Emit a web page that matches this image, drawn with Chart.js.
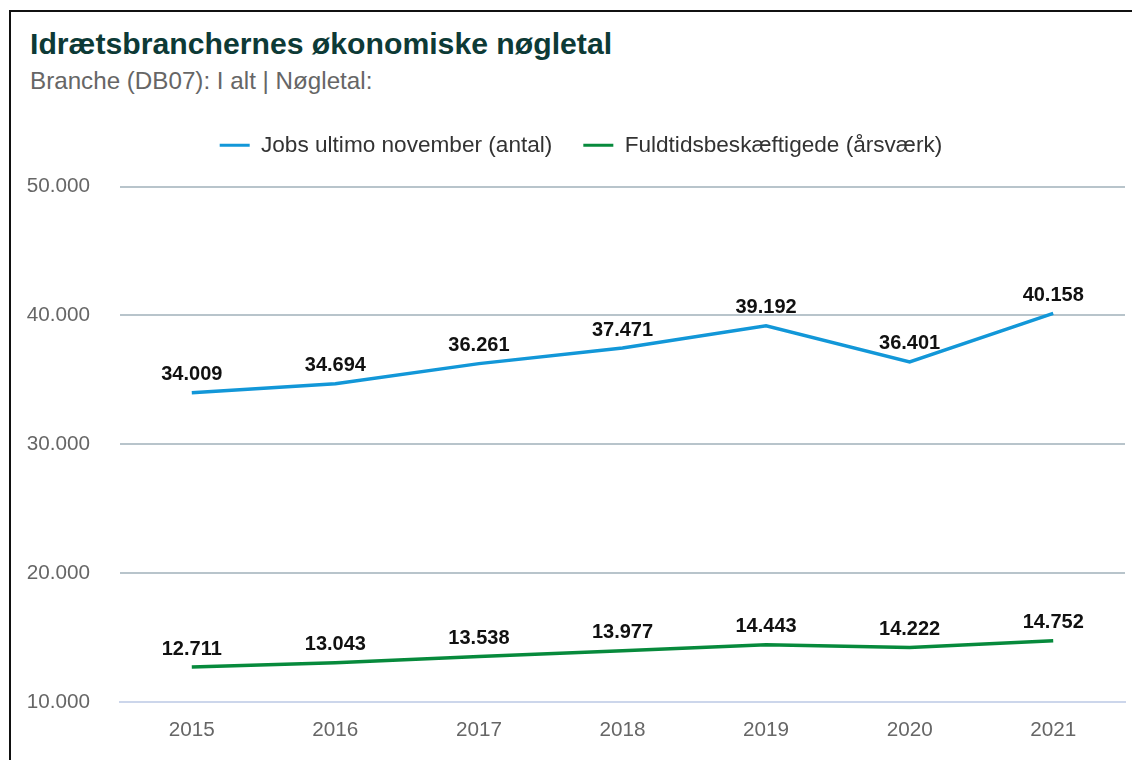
<!DOCTYPE html>
<html>
<head>
<meta charset="utf-8">
<script src="https://cdn.jsdelivr.net/npm/chart.js@4"></script>
<style>
  html, body { margin: 0; padding: 0; background: #fff; overflow: hidden; }
  body { width: 1132px; height: 760px; position: relative; font-family: "Liberation Sans", Arial, sans-serif; }
  #frame { position: absolute; left: 9px; top: 10px; width: 1300px; height: 900px; border: 2px solid #111; }
  #title { position: absolute; left: 30px; top: 29px; font-size: 30.2px; line-height: 30px; font-weight: bold; color: #0d3a36; white-space: nowrap; }
  #subtitle { position: absolute; left: 30px; top: 68px; font-size: 24.2px; line-height: 26px; color: #666; white-space: nowrap; }
  #wrap { position: absolute; left: 11px; top: 103px; width: 1140px; height: 657px; }
</style>
</head>
<body>
<div id="frame"></div>
<div id="title">Idrætsbranchernes økonomiske nøgletal</div>
<div id="subtitle">Branche (DB07): I alt | Nøgletal:</div>
<div id="wrap"><canvas id="chart"></canvas></div>
<script>
/* --------------- Data --------------------- */
const years = ["2015", "2016", "2017", "2018", "2019", "2020", "2021"];
const jobs = [34009, 34694, 36261, 37471, 39192, 36401, 40158];
const fuldtid = [12711, 13043, 13538, 13977, 14443, 14222, 14752];
const seriesNames = ["Jobs ultimo november (antal)", "Fuldtidsbeskæftigede (årsværk)"];
const yTicks = [10000, 20000, 30000, 40000, 50000];

const fontName = "'Liberation Sans', Arial, sans-serif";
const fmt = (v) => String(v).replace(/\B(?=(\d{3})+(?!\d))/g, ".");

/* --------------- Value labels over each point --------------------- */
const pointLabels = {
  id: "pointLabels",
  afterDatasetsDraw(chart) {
    const ctx = chart.ctx;
    ctx.save();
    ctx.font = "bold 20px " + fontName;
    ctx.fillStyle = "#111";
    ctx.textAlign = "center";
    ctx.textBaseline = "middle";
    chart.data.datasets.forEach((ds, i) => {
      chart.getDatasetMeta(i).data.forEach((pt, j) => {
        ctx.fillText(fmt(ds.data[j]), pt.x, pt.y - 18);
      });
    });
    ctx.restore();
  },
};

/* --------------- Chart --------------------- */
new Chart(document.getElementById("chart"), {
  type: "line",
  plugins: [pointLabels],
  data: {
    labels: years,
    datasets: [
      { label: seriesNames[0], data: jobs, borderColor: "#1297d8", backgroundColor: "#1297d8", borderWidth: 3.5, pointRadius: 0, tension: 0 },
      { label: seriesNames[1], data: fuldtid, borderColor: "#078a3c", backgroundColor: "#078a3c", borderWidth: 3.5, pointRadius: 0, tension: 0 },
    ],
  },
  options: {
    responsive: true,
    maintainAspectRatio: false,
    animation: false,
    layout: { padding: 0 },
    plugins: {
      tooltip: { enabled: false },
      legend: {
        position: "top",
        labels: {
          boxWidth: 30,
          boxHeight: 3,
          padding: 31,
          color: "#333",
          font: { family: fontName, size: 22.6 },
          generateLabels: (chart) =>
            Chart.defaults.plugins.legend.labels.generateLabels(chart).map((l) => ({ ...l, lineWidth: 0 })),
        },
      },
    },
    scales: {
      x: {
        offset: true,
        grid: { display: false, drawTicks: false },
        border: { display: true, color: "#ccd6eb", width: 2 },
        ticks: { color: "#666", padding: 16, font: { family: fontName, size: 20.7 } },
        afterFit: (s) => { s.height = 58; },
      },
      x2: {
        position: "top",
        grid: { display: false, drawTicks: false },
        border: { display: false },
        ticks: { display: false },
        afterFit: (s) => { s.height = 20; },
      },
      y: {
        min: 10000,
        max: 50000,
        afterBuildTicks: (s) => { s.ticks = yTicks.map((v) => ({ value: v })); },
        grid: {
          drawTicks: false,
          lineWidth: 2,
          color: (c) => (c.tick && c.tick.value === 10000 ? "rgba(0,0,0,0)" : "#b8c4cb"),
        },
        border: { display: false },
        ticks: { color: "#666", padding: 30, font: { family: fontName, size: 20.7 }, callback: (v) => fmt(v) },
        afterFit: (s) => { s.width = 109; },
      },
      yr: {
        position: "right",
        min: 0,
        max: 1,
        grid: { display: false, drawTicks: false },
        border: { display: false },
        ticks: { display: false },
        afterFit: (s) => { s.width = 26; },
      },
    },
  },
});
</script>
</body>
</html>
